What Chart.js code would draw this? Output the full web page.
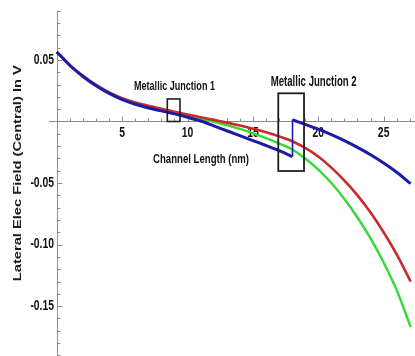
<!DOCTYPE html>
<html>
<head>
<meta charset="utf-8">
<script src="https://cdn.jsdelivr.net/npm/chart.js@4/dist/chart.umd.min.js"></script>
<style>
  html, body { margin: 0; padding: 0; background: #ffffff; }
  #wrap { width: 415px; height: 356px; }
</style>
</head>
<body>
<div id="wrap"><canvas id="field" width="415" height="356"></canvas></div>
<script>
// Channel position (nm) where the field is sampled
const lengthNm = [0, 1, 2, 3, 4, 5, 6, 7, 8, 9, 10, 11, 12, 13, 14, 15, 16, 17, 18, 19, 20, 21, 22, 23, 24, 25, 26, 27.07];

// Lateral electric field (central), V
const fieldRed = [0.0566, 0.0458, 0.0371, 0.0297, 0.0237, 0.0190, 0.0155, 0.0128, 0.0104, 0.0080, 0.0057, 0.0035, 0.0013, -0.0009, -0.0033, -0.0059, -0.0088, -0.0121, -0.0160, -0.0215, -0.0285, -0.0375, -0.048, -0.060, -0.074, -0.090, -0.108, -0.130];
const fieldGreen = [0.0566, 0.0456, 0.0368, 0.0293, 0.0232, 0.0184, 0.0148, 0.0119, 0.0095, 0.0071, 0.0047, 0.0023, -0.0002, -0.0029, -0.0060, -0.0096, -0.0135, -0.0178, -0.0228, -0.030, -0.039, -0.050, -0.063, -0.078, -0.095, -0.1145, -0.137, -0.167];

// Blue device: field before and after the second metallic junction
const blueBeforeNm = [0, 1, 2, 3, 4, 5, 6, 7, 8, 9, 10, 11, 12, 13, 14, 15, 16, 17, 18.03];
const blueBeforeField = [0.0565, 0.0455, 0.0366, 0.0290, 0.0228, 0.0178, 0.0140, 0.0110, 0.0086, 0.0062, 0.0035, 0.0004, -0.0035, -0.0075, -0.0115, -0.0155, -0.0195, -0.0237, -0.0285];
const blueAfterNm = [18.03, 19, 20, 21, 22, 23, 24, 25, 26, 27.07];
const blueAfterField = [0.0012, -0.0023, -0.0062, -0.0106, -0.0155, -0.0210, -0.0270, -0.0337, -0.0412, -0.0505];

// Metallic junction regions: [x from, x to] in nm, [field from, field to] in V
const junctionNames = ['Metallic Junction 1', 'Metallic Junction 2'];
const junctionSpanNm = [[8.45, 9.42], [16.94, 18.91]];
const junctionSpanField = [[0.0, 0.0183], [-0.0402, 0.0229]];

// Axis ticks
const xMajorTicks = [5, 10, 15, 20, 25];
const xTickLabels = ['5', '10', '15', '20', '25'];
const yMajorTicks = [0.05, -0.05, -0.10, -0.15];
const yTickLabels = ['0.05', '-0.05', '-0.10', '-0.15'];

const xTitle = 'Channel Length (nm)';
const yTitle = 'Lateral Elec Field (Central) In V';

function pts(xs, ys) { return xs.map((v, i) => ({ x: v, y: ys[i] })); }

// Text drawn with independent horizontal / vertical scaling (narrow bold face)
function scaledText(ctx, text, px, py, opt) {
  ctx.save();
  ctx.font = 'bold ' + opt.size + 'px "Liberation Sans", Arial, sans-serif';
  ctx.textAlign = opt.align || 'center';
  ctx.textBaseline = 'middle';
  ctx.fillStyle = opt.color || '#111';
  ctx.translate(px, py);
  if (opt.rotate) ctx.rotate(opt.rotate);
  let sx = opt.sx || 1;
  if (opt.width) sx = opt.width / ctx.measureText(text).width;
  ctx.scale(sx, opt.sy || 1);
  ctx.fillText(text, 0, 0);
  ctx.restore();
}

const axesPlugin = {
  id: 'crossAxes',
  beforeDatasetsDraw(chart) {
    const { ctx, chartArea, scales: { x, y } } = chart;
    const x0 = Math.round(x.getPixelForValue(0)) + 0.5;
    const y0 = Math.round(y.getPixelForValue(0)) + 0.5;
    ctx.save();
    ctx.strokeStyle = '#8c8c8c';
    ctx.lineWidth = 1;
    ctx.beginPath();
    ctx.moveTo(chartArea.left, y0); ctx.lineTo(chartArea.right, y0);
    ctx.moveTo(x0, y.getPixelForValue(0.09)); ctx.lineTo(x0, chartArea.bottom);
    // x ticks, pointing up into the plot
    for (let v = 1; v <= 27; v++) {
      const px = Math.round(x.getPixelForValue(v)) + 0.5;
      const len = xMajorTicks.includes(v) ? 5 : 3;
      ctx.moveTo(px, y0); ctx.lineTo(px, y0 - len);
    }
    // y ticks, pointing right into the plot
    for (let k = -19; k <= 9; k++) {
      if (k === 0) continue;
      const v = k / 100;
      const py = Math.round(y.getPixelForValue(v)) + 0.5;
      const len = (k % 5 === 0) ? 5 : 3;
      ctx.moveTo(x0, py); ctx.lineTo(x0 + len, py);
    }
    ctx.stroke();
    ctx.restore();

    xMajorTicks.forEach((v, i) => {
      scaledText(ctx, xTickLabels[i], x.getPixelForValue(v), y0 + 12, { size: 14, sx: 0.74 });
    });
    yMajorTicks.forEach((v, i) => {
      scaledText(ctx, yTickLabels[i], x0 - 3.5, y.getPixelForValue(v), { size: 14, sx: 0.74, align: 'right' });
    });

    scaledText(ctx, xTitle, x.getPixelForValue(11.03), y.getPixelForValue(-0.031), { size: 13, width: 96 });
    scaledText(ctx, yTitle, 17.5, y.getPixelForValue(-0.042), { size: 14.7, rotate: -Math.PI / 2, width: 216, sy: 0.78, color: '#1a1a1a' });
  },
  afterDatasetsDraw(chart) {
    const { ctx, scales: { x, y } } = chart;
    ctx.save();
    ctx.strokeStyle = '#1e1e1e';
    junctionSpanNm.forEach((sx, i) => {
      const sy = junctionSpanField[i];
      const l = x.getPixelForValue(sx[0]), r = x.getPixelForValue(sx[1]);
      const t = y.getPixelForValue(sy[1]), b = y.getPixelForValue(sy[0]);
      ctx.lineWidth = i === 0 ? 1.6 : 1.8;
      ctx.strokeRect(l, t, r - l, b - t);
    });
    ctx.restore();
    scaledText(ctx, junctionNames[0], x.getPixelForValue(9.0), y.getPixelForValue(0.0287), { size: 13, width: 81 });
    scaledText(ctx, junctionNames[1], x.getPixelForValue(19.65), y.getPixelForValue(0.0323), { size: 14, width: 86 });
  }
};

const line = (data, color, width) => ({
  data, borderColor: color, borderWidth: width, pointRadius: 0,
  fill: false, cubicInterpolationMode: 'monotone'
});

new Chart(document.getElementById('field'), {
  type: 'line',
  data: {
    datasets: [
      line(pts(blueBeforeNm, blueBeforeField), '#1b1ba8', 3),
      line(pts([blueBeforeNm[blueBeforeNm.length - 1], blueAfterNm[0]],
               [blueBeforeField[blueBeforeField.length - 1], blueAfterField[0]]), '#1b1ba8', 1.6),
      line(pts(blueAfterNm, blueAfterField), '#1b1ba8', 3),
      line(pts(lengthNm, fieldRed), '#c92a2a', 2.6),
      line(pts(lengthNm, fieldGreen), '#35d935', 2.4)
    ]
  },
  options: {
    responsive: false,
    animation: false,
    events: [],
    layout: { padding: { left: 49, right: 0, top: 0, bottom: 0 } },
    plugins: { legend: { display: false }, tooltip: { enabled: false } },
    scales: {
      x: { type: 'linear', min: -0.6, max: 27.4, display: false },
      y: { type: 'linear', min: -0.1905, max: 0.0987, display: false }
    }
  },
  plugins: [axesPlugin]
});
</script>
</body>
</html>
